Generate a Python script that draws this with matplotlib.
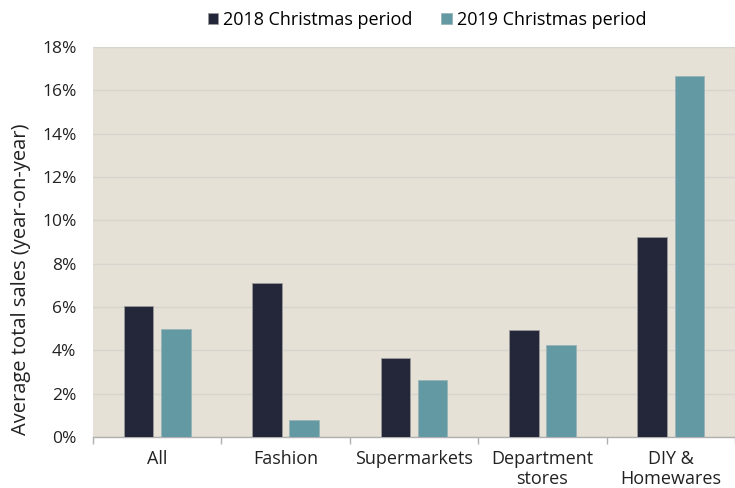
import matplotlib.pyplot as plt
import numpy as np
from matplotlib.ticker import FuncFormatter

plt.rcParams['font.family'] = ['Open Sans', 'DejaVu Sans']

categories = ['All', 'Fashion', 'Supermarkets', 'Department\nstores', 'DIY &\nHomewares']
sales_2018 = [6.05, 7.1, 3.65, 4.95, 9.25]
sales_2019 = [5.0, 0.8, 2.65, 4.25, 16.65]

dark = '#24273a'
teal = '#6399a3'
bg = '#e5e1d6'

fig = plt.figure(figsize=(7.35, 4.88), dpi=100)
ax = fig.add_axes([0.1265, 0.1045, 0.8735, 0.7992])
ax.set_facecolor(bg)

x = np.arange(len(categories))
w = 0.23
ax.bar(x - 0.03 - w / 2, sales_2018, w, color=dark, edgecolor='#9a9a9a', linewidth=0.6,
       label='2018 Christmas period', zorder=3)
ax.bar(x + 0.03 + w / 2, sales_2019, w, color=teal, edgecolor='#9ab3b8', linewidth=0.6,
       label='2019 Christmas period', zorder=3)

ax.set_xlim(-0.5, len(categories) - 0.5)
ax.set_ylim(0, 18)
ax.set_yticks(np.arange(0, 19, 2))
ax.yaxis.set_major_formatter(FuncFormatter(lambda v, p: '%d%%' % v))
ax.grid(axis='y', color='#d8d5d0', linewidth=1.0, zorder=0)

ax.set_xticks(x)
ax.set_xticklabels(categories, fontsize=13, color='#222222', linespacing=1.15)
ax.set_xticks(np.arange(-0.5, len(categories), 1), minor=True)
ax.tick_params(axis='x', which='major', length=0, pad=9)
ax.tick_params(axis='x', which='minor', length=5, color='#b0b0b0', width=1)
ax.tick_params(axis='y', length=0, labelsize=12.5, labelcolor='#222222', pad=12)

for s in ['top', 'right', 'left']:
    ax.spines[s].set_visible(False)
ax.spines['bottom'].set_color('#b0b0b0')
ax.spines['bottom'].set_linewidth(1)

ax.set_ylabel('Average total sales (year-on-year)', fontsize=14.5, color='#222222')
ax.yaxis.set_label_coords(-0.097, 0.405)

ax.legend(loc='lower center', bbox_to_anchor=(0.52, 1.005), ncol=2, frameon=False,
          fontsize=13, handlelength=0.6, handleheight=0.6, handletextpad=0.25,
          columnspacing=1.6)

fig.savefig('out.png', dpi=100)
